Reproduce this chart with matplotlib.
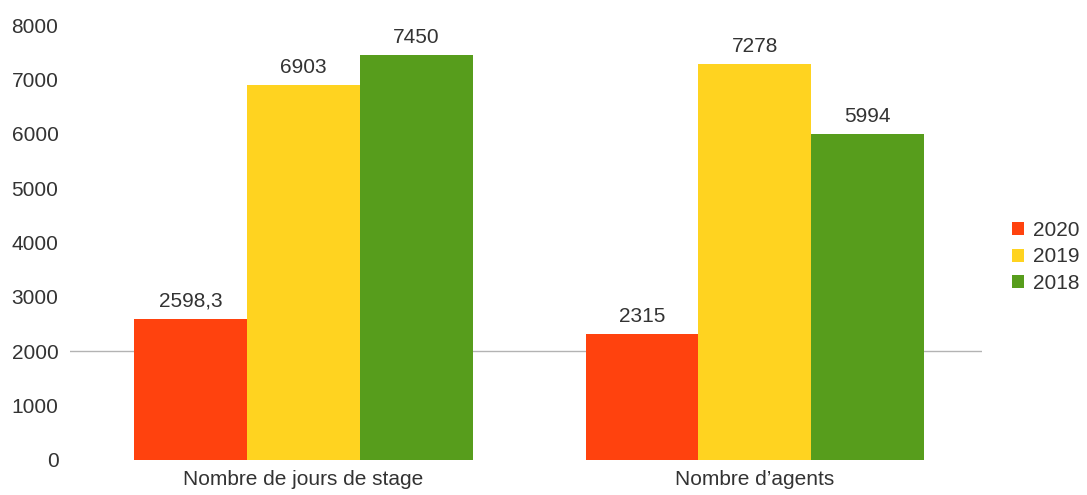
import matplotlib
matplotlib.use('Agg')
import matplotlib.pyplot as plt
import numpy as np

plt.rcParams['font.family'] = ['Liberation Sans', 'DejaVu Sans']

categories = ['Nombre de jours de stage', 'Nombre d\u2019agents']
years = ['2020', '2019', '2018']
values_2020 = [2598.3, 2315]
values_2019 = [6903, 7278]
values_2018 = [7450, 5994]
value_labels = {
    '2020': ['2598,3', '2315'],
    '2019': ['6903', '7278'],
    '2018': ['7450', '5994'],
}
series = {'2020': values_2020, '2019': values_2019, '2018': values_2018}
colors = {'2020': '#ff420e', '2019': '#ffd320', '2018': '#579d1c'}

text_color = '#333333'
font_size = 15
figure = plt.figure(figsize=(10.87, 4.95), dpi=100)
axis = figure.add_axes([0.064, 0.071, 0.839, 0.878])

x = np.arange(len(categories))
width = 0.25
for index, year in enumerate(years):
    offsets = x + (index - 1) * width
    bars = axis.bar(offsets, series[year], width=width, color=colors[year],
                    label=year, zorder=2)
    for bar, label in zip(bars, value_labels[year]):
        axis.text(bar.get_x() + bar.get_width() / 2, bar.get_height() + 150, label,
                  ha='center', va='bottom', fontsize=font_size, color=text_color)

axis.axhline(2000, color='#b3b3b3', linewidth=1, zorder=1)
axis.set_xlim(-0.518, 1.502)
axis.set_ylim(0, 8000)
axis.set_yticks(range(0, 8001, 1000))
axis.set_xticks(x)
axis.set_xticklabels(categories)
axis.tick_params(axis='both', length=0, labelsize=font_size, colors=text_color)
axis.tick_params(axis='y', pad=8)
axis.tick_params(axis='x', pad=7)
for spine in axis.spines.values():
    spine.set_visible(False)

legend = axis.legend(loc='center left', bbox_to_anchor=(1012 / 1087, 1 - 257 / 495),
                     bbox_transform=figure.transFigure, frameon=False,
                     fontsize=font_size, handlelength=0.58, handleheight=0.58,
                     handletextpad=0.45, labelspacing=0.35, borderpad=0,
                     borderaxespad=0)
for text in legend.get_texts():
    text.set_color(text_color)

plt.savefig('out.png', dpi=100)
plt.close(figure)
